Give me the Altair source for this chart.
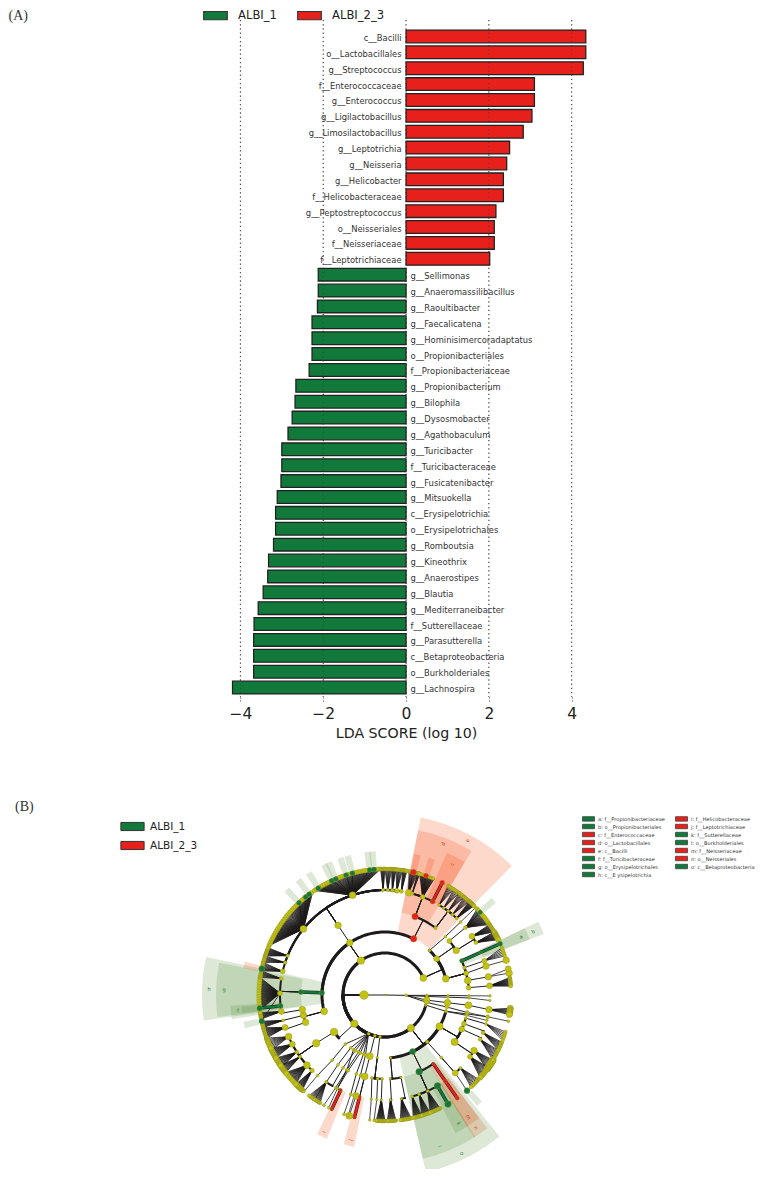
import math
import altair as alt
import pandas as pd

GREEN, RED, YELLOW = "#117A3B", "#E8201C", "#C2C212"

taxa_top = ["c__Bacilli","o__Lactobacillales","g__Streptococcus","f__Enterococcaceae","g__Enterococcus",
 "g__Ligilactobacillus","g__Limosilactobacillus","g__Leptotrichia","g__Neisseria","g__Helicobacter",
 "f__Helicobacteraceae","g__Peptostreptococcus","o__Neisseriales","f__Neisseriaceae","f__Leptotrichiaceae"]
scores_top = [4.34,4.34,4.28,3.10,3.10,3.04,2.83,2.50,2.43,2.35,2.35,2.17,2.13,2.13,2.02]
taxa_bottom = ["g__Sellimonas","g__Anaeromassilibacillus","g__Raoultibacter","g__Faecalicatena","g__Hominisimercoradaptatus",
 "o__Propionibacteriales","f__Propionibacteriaceae","g__Propionibacterium","g__Bilophila","g__Dysosmobacter",
 "g__Agathobaculum","g__Turicibacter","f__Turicibacteraceae","g__Fusicatenibacter","g__Mitsuokella","c__Erysipelotrichia",
 "o__Erysipelotrichales","g__Romboutsia","g__Kineothrix","g__Anaerostipes","g__Blautia","g__Mediterraneibacter",
 "f__Sutterellaceae","g__Parasutterella","c__Betaproteobacteria","o__Burkholderiales","g__Lachnospira"]
scores_bottom = [-2.12,-2.12,-2.14,-2.27,-2.27,-2.27,-2.34,-2.66,-2.68,-2.75,-2.85,-3.0,-3.0,-3.02,-3.11,-3.15,-3.15,
 -3.2,-3.32,-3.34,-3.45,-3.57,-3.67,-3.68,-3.68,-3.68,-4.19]
groups = ["ALBI_1","ALBI_2_3"]
ticks = [-4,-2,0,2,4]

clade_names = ["a: f__Propionibacteriaceae","b: o__Propionibacteriales","c: f__Enterococcaceae","d: o__Lactobacillales",
 "e: c__Bacilli","f: f__Turicibacteraceae","g: o__Erysipelotrichales","h: c__E ysipelotrichia","i: f__Helicobacteraceae",
 "j: f__Leptotrichiaceae","k: f__Sutterellaceae","l: o__Burkholderiales","m: f__Neisseriaceae","n: o__Neisseriales",
 "o: c__Betaproteobacteria"]
clade_side = ["g","g","r","r","r","g","g","g","r","r","g","g","r","r","g"]
clade_t0 =   [64.5,64.5,23.5,11.4,11.4,261,262.5,262,202,191.5,147.5,147.5,142.5,142.5,141]
clade_t1 =   [69,69,31,31,44.5,266,281,282,206,195.5,153,167,148,148,167]
clade_r0 =   [105,85,105,84,64,105,84,63,105,105,105,84,105,85,63]
clade_r1 =   [155,170,155,168,181,155,169,183,155,155,155,168,155,168,182]
clade_rt =   [148,161,147,162,175,148,161,176,150,149,148,161,148,161,176]
clade_at =   [66.7,66.7,27,21,28,264,272,272,204,193.5,150,160,145.5,145.5,154]

ray_theta = [317,323,328,335,337,342,345,353,355,258,264,282,49,139,13,19]
ray_side  = ["g","g","g","g","g","g","g","g","g","g","g","r","g","g","r","r"]

# tree: (angle on its ring, node diameter, class, children, straight edge, highlighted edge)
def N(t, d=3, c="", kids=(), s=False, hl=False):
    return dict(t=t, d=d, c=c, kids=list(kids), s=s, hl=hl)
def F(a, b, n, d=3.6):
    skip = 3 if n >= 20 else 1
    return [N(a + (b - a) * i / (n - 1), d if i % skip == 0 else 0, s=True) for i in range(n)]
def L(*ang, d=3, end=()):
    node = None
    for a in reversed(ang):
        node = N(a, d, s=True, kids=[node] if node else list(end))
    return node

phylum_archaea = N(91, 3, kids=[
    L(90.5, 90.5, 90.5, 90.5, d=2.6), L(92, 92, 92, 93, d=2.6),
    N(97, 7, s=True, kids=[N(97, 7, s=True, kids=[N(97, 8, s=True, kids=[N(98, 7, s=True, kids=F(96, 99, 8, 6))])])]),
    L(100, 101, 102, 102, d=4),
])
firmicutes = N(325, 10, kids=[
    N(255, 8, kids=[N(251, 7, kids=[N(252, 6, kids=F(250, 255, 14))]),
                    N(256, 7, kids=[N(256, 3, kids=F(255, 258, 10))]),
                    N(260, 7, kids=[N(261, 6, kids=F(259, 262, 10))])]),
    N(272, 5, "g", kids=[N(272, 5, "g", hl=True, kids=[
        N(264, 5, "g", kids=[N(264, 5.5, "g", hl=True)]),
        N(271, 5, kids=F(263, 278, 40, 4.5)+[N(258, 5.5, "g", s=True)]),
        N(279, 4, kids=F(278, 281, 8))])]),
    N(326, 7, kids=[N(326, 7, kids=[
        N(283, 5, kids=F(281, 285, 10)+[N(282, 6, "g", s=True)]),
        N(288, 3.5, kids=F(285, 288, 8)),
        N(292, 3.5, kids=F(288, 292, 14)),
        N(309, 7.5, kids=F(293, 325, 90, 4.6)+[N(a, 5, "g", s=True) for a in (317,321,323)]),
        N(342, 7.5, kids=F(326, 358, 90, 4.6)+[N(a, 5, "g", s=True) for a in (328,335,337,342,345,353,355)]),
        N(359, 3.5, kids=F(358, 360, 8)), N(1.5, 3.5, kids=F(0, 3, 8)), N(4, 3.5, kids=F(3, 5, 8)),
        N(6.5, 5, kids=F(5, 8, 8)), N(9, 4, kids=F(8, 10, 8))])]),
    N(27, 6.5, "r", kids=[
        N(21, 6.5, "r", kids=[
            N(13, 6.5, kids=[N(13, 6, "r", s=True)]+F(11, 15, 10)),
            N(15, 3.5, kids=F(15, 16, 5)),
            N(21, 5, kids=F(16, 23, 24)+[N(19, 5, "r", s=True)]),
            N(27, 5, "r", kids=[N(27, 5, "r", hl=True)])]),
        N(37, 3.5, kids=[
            N(31, 3, kids=F(30, 33, 6)), N(34, 3, kids=F(33, 36, 6)), N(37, 3, kids=F(36, 39, 7)),
            N(40, 3, kids=F(39, 42, 7)), N(43, 3, kids=F(42, 45, 14))])]),
])
actino = N(66, 8, kids=[
    N(45, 3, kids=[L(46, 46, 46, d=3)]),
    N(55, 6, kids=[N(50, 5, kids=[N(50, 4, kids=F(47, 56, 26, 4.5)+[N(49, 4.5, "g", s=True)])]),
                   N(58, 7, kids=[N(56, 6, kids=F(56, 60, 14)), N(60, 4, kids=F(60, 64, 14, 5))])]),
    N(75, 8, kids=[
        N(66, 4.5, "g", kids=[N(66, 3, "g", hl=True, kids=[N(66, 5, "g", hl=True)])]),
        N(71, 3.5, kids=[N(71, 5, s=True, kids=F(68, 72, 6))]),
        N(75, 5, kids=[N(74, 7, s=True, kids=[N(74, 7, s=True)])]),
        N(80, 8, kids=[N(80, 7, s=True, kids=[N(80, 7.5, s=True), N(78, 6, s=True)])]),
        N(85, 5, kids=[N(85, 6, s=True, kids=F(82, 86, 14))])]),
])
proteo = N(142, 9.5, kids=[
    N(175, 2.5, kids=[
        N(176.5, 2.5, kids=[N(177, 2.5, kids=F(175, 179, 12))]),
        N(169, 2.5, kids=[N(171, 2.5, kids=F(168, 173, 14))])]),
    N(154, 6, "g", kids=[
        N(156, 7, "g", kids=[
            N(165, 3, kids=F(163, 167, 12)), N(161, 3, kids=F(159, 163, 12)), N(156, 3, kids=F(154, 159, 14)),
            N(150, 7, "g", kids=[N(150, 7, "g", hl=True)])]),
        N(145, 3, "r", kids=[N(145, 4, "r", hl=True, kids=[N(145, 4, "r", hl=True)])])]),
    N(138, 3.5, kids=[N(138, 3, kids=[N(138, 6, kids=[N(139.4, 6, "g", s=True)]), N(134, 3, kids=F(132, 137, 10))])]),
    N(120, 9.5, kids=[
        N(124, 9, kids=[N(126, 5, kids=F(125, 131, 14, 5)), N(122, 7, kids=F(121, 126, 12, 7))]),
        N(114, 6, kids=[N(115, 4, kids=F(116, 121, 10))]),
        N(110, 5, kids=[N(111, 4, kids=F(112, 116, 10))]),
        N(106, 3, kids=[N(106, 3, kids=F(107, 111, 6))])]),
    N(105, 3, kids=[L(103, 102, 102, d=3)]),
])
phylum_203 = N(203, 3, kids=[
    L(219, 219, 220, 220), L(213, 214, 214, 214),
    N(208, 3, s=True, kids=[N(210, 3, s=True, kids=[N(214, 3, kids=F(211, 217, 14))])]),
    L(205, 207, 208, 209), L(203, 206, 207, 206.5),
    N(210, 2.5, s=True, kids=[N(207, 2.5, s=True, kids=[N(205, 3, "r", kids=[N(205, 3, "r", hl=True)])])]),
    L(200, 200, 199, 199), L(198, 197, 197, 197),
])
phylum_194 = N(194, 3, kids=[N(194, 8, s=True, kids=[N(194, 8, s=True, kids=[
    N(196, 7, kids=[N(196.5, 8, s=True)]), N(194, 3, "r", kids=[N(194, 3.5, "r", hl=True)])])])])
phylum_187 = N(187, 3, kids=[N(187, 2.5, s=True, kids=[
    N(189, 3, kids=[L(187.5, 187, d=2.6)]), N(185, 3, kids=[L(184.5, 185, d=2.6)]),
    N(182, 3, kids=[N(182, 2.6, s=True, kids=F(180, 184, 14))])])])
low_gram = N(227, 9.5, kids=[N(234, 10, kids=[N(235, 9.5, s=True, kids=[
    N(246.6, 7, kids=F(244, 250, 10, 5)), N(242, 6, kids=F(240, 245, 14, 5)),
    N(237, 4, kids=F(235, 240, 14, 5)), N(234, 3.5, kids=F(232, 236, 12, 5)),
    N(228, 7.5, kids=F(225, 232, 20, 5)), N(224, 4.5, kids=F(221, 225, 14, 5))])])])
bacteria = N(270, 14, kids=[N(104, 2.5, kids=[L(105, 104, 104, d=2.6)]), proteo, phylum_187, phylum_194, phylum_203,
                            low_gram, firmicutes, actino])
tree_roots = [phylum_archaea, bacteria]

STEP = 21.0
CX, CY = 385 - 8, 995 - 8

def xy(r, t):
    a = math.radians(t)
    return r * math.sin(a), r * math.cos(a)

edges, nodes = [], []
ARC_W = {1: 1, 2: 3, 3: 3, 4: 2.2, 5: 2, 6: 0.7}
def add_edge(points, w, kind):
    edges.append(dict(pts=points, w=w, kind=kind, id=len(edges)))
def shrink(d):
    return d if d <= 6.5 else 6.5 + (d - 6.5) * 0.3
def walk(n, level, parent):
    r = level * STEP
    t = n["t"]
    if parent is not None:
        pr, pt = parent
        if n["s"]:
            add_edge([xy(pr, pt), xy(r, t)], 0.78 if not n["kids"] else 0.95, "k")
        else:
            delta = (t - pt + 180) % 360 - 180
            steps = max(1, int(abs(delta) // 2))
            arc = [xy(r, pt + delta * i / steps) for i in range(steps + 1)]
            radial = [xy(pr, pt), xy(r, pt)]
            if n["hl"]:
                add_edge(radial + arc, 3.4, "k")
                add_edge(radial + arc, 2.4, n["c"])
            else:
                add_edge(radial, 1, "k")
                if abs(delta) > 0.01:
                    add_edge(arc, ARC_W.get(level, 1), "k")
    if n["d"] > 0:
        nodes.append(dict(x=xy(r, t)[0], y=xy(r, t)[1], area=shrink(n["d"]) ** 2,
                          cls={"g": groups[0], "r": groups[1]}.get(n["c"], "none")))
    for k in n["kids"]:
        walk(k, level + 1, (r, t))

nodes.append(dict(x=0, y=0, area=3, cls="none"))
for root in tree_roots:
    walk(root, 1, (0, root["t"]))

rank = {"k": 0, "g": 1, "r": 1}
edges.sort(key=lambda e: rank[e["kind"]])
rows = []
for e in edges:
    for i, (x, y) in enumerate(e["pts"]):
        rows.append(dict(id=e["id"], i=i, x=x, y=y, w=e["w"], kind=e["kind"]))
edge_df = pd.DataFrame(rows)
node_df = pd.DataFrame(nodes)
node_df["top"] = (node_df.cls != "none").astype(int)
node_df = node_df.sort_values(["top", "area"], ascending=[True, False])

W, H = 751, 1161
bar_df = pd.DataFrame({"taxon": taxa_top + taxa_bottom, "score": scores_top + scores_bottom})
bar_df["group"] = [groups[1] if s > 0 else groups[0] for s in bar_df.score]
order = list(bar_df.taxon)

X_BAR = alt.Scale(domain=[-4, 4], range=[232.4, 563.7], nice=False, zero=False)
Y_BAR = alt.Scale(domain=order, range=[20.5, 687.5], paddingInner=0.2, paddingOuter=0.1)
X_CL = alt.Scale(domain=[-200, 200], range=[CX - 200, CX + 200], nice=False, zero=False)
Y_CL = alt.Scale(domain=[-200, 200], range=[CY + 200, CY - 200], nice=False, zero=False)
RECT = "M-1,-0.35H1V0.35H-1Z"
RECT_S = "M-2,-0.75H2V0.75H-2Z"

grid = alt.Chart(pd.DataFrame({"t": ticks})).mark_rule(color="#555", strokeDash=[1.2, 3], strokeWidth=1).encode(
    x=alt.X("t:Q", scale=X_BAR, axis=None), y=alt.value(12), y2=alt.value(689))
bars = alt.Chart(bar_df).mark_bar(stroke="#222", strokeWidth=1.3, opacity=1).encode(
    x=alt.X("score:Q", scale=X_BAR, title="LDA SCORE (log 10)",
            axis=alt.Axis(values=ticks, grid=False, domain=False, tickSize=6, tickDash=[1, 2], tickColor="#444",
                          offset=-472, labelFontSize=15.5, labelColor="#222", labelPadding=3, labelFlush=False,
                          titleFontSize=14.2, titleFontWeight="normal", titleColor="#222", titlePadding=5,
                          labelFont="DejaVu Sans", titleFont="DejaVu Sans", format="d")),
    x2=alt.datum(0),
    y=alt.Y("taxon:N", scale=Y_BAR, axis=None),
    color=alt.Color("group:N", scale=alt.Scale(domain=groups, range=[GREEN, RED]),
        legend=alt.Legend(title=None, orient="none", legendX=195, legendY=-5, direction="horizontal",
            symbolType=RECT, symbolSize=560, symbolStrokeColor="#333", symbolStrokeWidth=1.1, symbolOpacity=1,
            labelFontSize=11.6, labelFont="DejaVu Sans", labelColor="#222", labelOffset=10, columnPadding=18)))
grid_over = grid.mark_rule(color="#333", strokeDash=[1.2, 3], strokeWidth=1, opacity=0.55)
lab_pos = alt.Chart(bar_df[bar_df.score > 0]).mark_text(align="right", dx=-4.5, dy=1.5, font="DejaVu Sans", fontSize=8.4, color="#333").encode(
    x=alt.datum(0, scale=X_BAR, axis=None), y=alt.Y("taxon:N", scale=Y_BAR, axis=None), text="taxon:N")
lab_neg = alt.Chart(bar_df[bar_df.score < 0]).mark_text(align="left", dx=4.5, dy=1.5, font="DejaVu Sans", fontSize=8.4, color="#333").encode(
    x=alt.datum(0, scale=X_BAR, axis=None), y=alt.Y("taxon:N", scale=Y_BAR, axis=None), text="taxon:N")

clade_df = pd.DataFrame({"name": clade_names, "side": clade_side, "t0": clade_t0, "t1": clade_t1,
                         "r0": clade_r0, "r1": clade_r1, "rt": clade_rt, "at": clade_at})
clade_df["letter"] = [n[0] for n in clade_names]
clade_df["tx"] = [xy(r, a)[0] for r, a in zip(clade_rt, clade_at)]
clade_df["ty"] = [xy(r, a)[1] for r, a in zip(clade_rt, clade_at)]
clade_df["rot"] = [(a - 90) % 360 if a < 180 else (a + 90) % 360 for a in clade_at]
ray_df = pd.DataFrame({"t0": [a - 1.3 for a in ray_theta], "t1": [a + 1.3 for a in ray_theta], "side": ray_side,
                       "r0": 129, "r1": 144})
sector_df = pd.concat([clade_df[["t0", "t1", "r0", "r1", "side"]], ray_df], ignore_index=True)

THETA = alt.Scale(domain=[0, 360], range=[0, 2 * math.pi])
RAD = alt.Scale(domain=[0, 200], range=[0, 200], zero=True, nice=False)
sectors = alt.Chart(sector_df).mark_arc(opacity=0.2).encode(
    theta=alt.Theta("t0:Q", scale=THETA), theta2="t1:Q",
    radius=alt.Radius("r1:Q", scale=RAD), radius2="r0:Q",
    x=alt.value(CX), y=alt.value(CY),
    color=alt.Color("side:N", scale=alt.Scale(domain=["g", "r"], range=["#558C37", "#F54100"]), legend=None))
letters = alt.Chart(clade_df).mark_text(font="DejaVu Sans", fontSize=5).encode(
    x=alt.X("tx:Q", scale=X_CL, axis=None), y=alt.Y("ty:Q", scale=Y_CL, axis=None), text="letter:N",
    angle=alt.Angle("rot:Q", scale=None),
    color=alt.Color("side:N", scale=alt.Scale(domain=["g", "r"], range=[GREEN, "#D9381E"]), legend=None))
edge_layer = alt.Chart(edge_df).mark_line(interpolate="linear", strokeCap="round").encode(
    x=alt.X("x:Q", scale=X_CL, axis=None), y=alt.Y("y:Q", scale=Y_CL, axis=None),
    detail="id:N", order="i:Q", size=alt.Size("w:Q", scale=None),
    color=alt.Color("kind:N", scale=alt.Scale(domain=["k", "g", "r"], range=["#1c1a1a", GREEN, RED]), legend=None))
node_layer = alt.Chart(node_df).mark_point(filled=True, opacity=1, stroke="#8a8a24", strokeWidth=0.4).encode(
    x=alt.X("x:Q", scale=X_CL, axis=None), y=alt.Y("y:Q", scale=Y_CL, axis=None),
    size=alt.Size("area:Q", scale=None),
    fill=alt.Fill("cls:N", scale=alt.Scale(domain=groups + ["none"], range=[GREEN, RED, YELLOW]),
        legend=alt.Legend(title=None, orient="none", legendX=112, legendY=806, values=groups,
            symbolType=RECT, symbolSize=540, symbolStrokeColor="#333", symbolStrokeWidth=1, symbolOpacity=1,
            labelFontSize=10.5, labelFont="DejaVu Sans", labelColor="#222", labelOffset=5, rowPadding=-8)))
clade_key = alt.Chart(clade_df).mark_point(filled=True, opacity=0).encode(
    x=alt.value(0), y=alt.value(0),
    color=alt.Color("name:N", sort=clade_names,
        scale=alt.Scale(domain=clade_names, range=[GREEN if s == "g" else RED for s in clade_side]),
        legend=alt.Legend(title=None, orient="none", legendX=577, legendY=807, columns=2, symbolType=RECT_S,
            symbolSize=36, symbolStrokeColor="#333", symbolStrokeWidth=0.7, symbolOpacity=1, labelFontSize=5.1,
            labelFont="DejaVu Sans", labelColor="#333", labelOffset=6, rowPadding=-1, columnPadding=9, labelLimit=90)))

panel_labels = ["(A)", "(B)"]
panel_a = alt.Chart(pd.DataFrame({"s": panel_labels[:1]})).mark_text(font="Liberation Serif", fontSize=14, align="left", color="#333").encode(
    x=alt.value(0.5), y=alt.value(8), text="s:N")
panel_b = alt.Chart(pd.DataFrame({"s": panel_labels[1:]})).mark_text(font="Liberation Serif", fontSize=14, align="left", color="#333").encode(
    x=alt.value(7), y=alt.value(799), text="s:N")

chart = alt.layer(
    grid, bars, grid_over, lab_pos, lab_neg, sectors, letters, edge_layer, node_layer, clade_key, panel_a, panel_b
).resolve_scale(x="independent", y="independent", color="independent", fill="independent"
).properties(width=W, height=H, padding=0, autosize=alt.AutoSizeParams(type="none")
).configure_view(stroke=None)

chart.save("out.html", embed_options={"renderer": "svg", "actions": False})
